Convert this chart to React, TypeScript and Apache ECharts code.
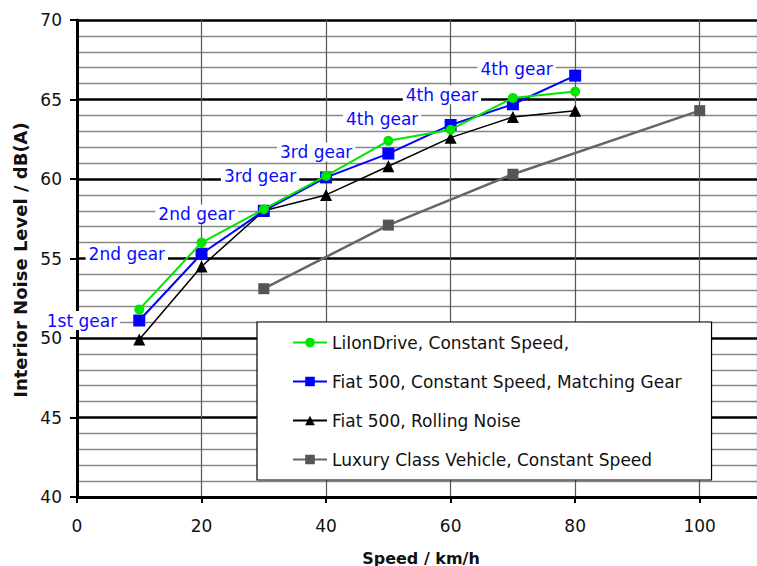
import React, { useEffect, useRef } from "react";
import * as echarts from "echarts";

const speeds = [10, 20, 30, 40, 50, 60, 70, 80];
const liIonDrive = [51.8, 56.0, 58.1, 60.2, 62.4, 63.1, 65.1, 65.5];
const fiatGear = [51.1, 55.3, 58.0, 60.1, 61.6, 63.4, 64.7, 66.5];
const fiatRolling = [49.9, 54.5, 58.0, 59.0, 60.8, 62.6, 63.9, 64.3];
const luxurySpeeds = [30, 50, 70, 100];
const luxury = [53.1, 57.1, 60.3, 64.3];

const seriesNames = [
  "LiIonDrive, Constant Speed,",
  "Fiat 500, Constant Speed, Matching Gear",
  "Fiat 500, Rolling Noise",
  "Luxury Class Vehicle, Constant Speed",
];

// gear annotations: [speed, level, text]
const gearLabels: [number, number, string][] = [
  [0.8, 51.1, "1st gear"],
  [8.0, 55.3, "2nd gear"],
  [19.2, 57.8, "2nd gear"],
  [29.4, 60.2, "3rd gear"],
  [38.4, 61.7, "3rd gear"],
  [49.0, 63.8, "4th gear"],
  [58.6, 65.3, "4th gear"],
  [70.6, 66.9, "4th gear"],
];

const FONT = "DejaVu Sans";

export default function App() {
  const ref = useRef<HTMLDivElement>(null);
  useEffect(() => {
    if (!ref.current) return;
    const chart = echarts.init(ref.current, undefined, { renderer: "svg" });
    const zip = (xs: number[], ys: number[]) => xs.map((x, i) => [x, ys[i]]);
    chart.setOption({
      animation: false,
      backgroundColor: "#fff",
      grid: { left: 77, right: -2.5, top: 20, bottom: 69, containLabel: false },
      xAxis: {
        type: "value",
        min: 0,
        max: 109.2,
        interval: 20,
        axisLine: { show: true, onZero: false, lineStyle: { color: "#000", width: 3 } },
        axisTick: { show: true, length: 6, lineStyle: { color: "#000", width: 2 } },
        axisLabel: { showMaxLabel: false, color: "#111", fontFamily: FONT, fontSize: 17, margin: 20 },
        splitLine: { show: true, lineStyle: { color: "#555", width: 1.2 } },
      },
      yAxis: {
        type: "value",
        min: 40,
        max: 70,
        interval: 5,
        axisLine: { show: true, lineStyle: { color: "#000", width: 3 } },
        axisTick: { show: true, length: 7, lineStyle: { color: "#000", width: 2 } },
        axisLabel: { color: "#111", fontFamily: FONT, fontSize: 17, margin: 15 },
        splitLine: { show: true, lineStyle: { color: "#000", width: 2.5 } },
        minorTick: { show: false, splitNumber: 5 },
        minorSplitLine: { show: true, lineStyle: { color: "#888", width: 1.3 } },
      },
      legend: {
        orient: "vertical",
        left: 257,
        top: 322,
        data: seriesNames,
        backgroundColor: "#fff",
        borderColor: "#000",
        borderWidth: 1.2,
        padding: [12, 30, 12, 35],
        itemWidth: 34,
        itemHeight: 12,
        itemGap: 22,
        textStyle: { color: "#111", fontFamily: FONT, fontSize: 17 },
      },
      graphic: [
        {
          type: "text",
          x: 20,
          y: 260,
          rotation: Math.PI / 2,
          style: {
            text: "Interior Noise Level / dB(A)",
            font: `bold 18px "${FONT}"`,
            fill: "#111",
            align: "center",
            verticalAlign: "middle",
          },
        },
        {
          type: "text",
          x: 421,
          y: 558,
          style: {
            text: "Speed / km/h",
            font: `bold 16px "${FONT}"`,
            fill: "#111",
            align: "center",
            verticalAlign: "middle",
          },
        },
      ],
      series: [
        {
          name: seriesNames[3],
          type: "line",
          data: zip(luxurySpeeds, luxury),
          color: "#5a5a5a",
          symbol: "rect",
          symbolSize: 11,
          lineStyle: { width: 2.5, color: "#666" },
          itemStyle: { color: "#555" },
          z: 2,
        },
        {
          name: seriesNames[2],
          type: "line",
          data: zip(speeds, fiatRolling),
          color: "#000",
          symbol: "triangle",
          symbolSize: 12,
          lineStyle: { width: 1.5, color: "#000" },
          itemStyle: { color: "#000" },
          z: 3,
        },
        {
          name: seriesNames[1],
          type: "line",
          data: zip(speeds, fiatGear),
          color: "#0000ff",
          symbol: "rect",
          symbolSize: 12,
          lineStyle: { width: 2, color: "#0000ff" },
          itemStyle: { color: "#0000ff" },
          z: 4,
        },
        {
          name: seriesNames[0],
          type: "line",
          data: zip(speeds, liIonDrive),
          color: "#00e600",
          symbol: "circle",
          symbolSize: 10,
          lineStyle: { width: 2, color: "#00e600" },
          itemStyle: { color: "#00e600" },
          z: 5,
        },
        {
          name: "gear",
          type: "scatter",
          data: gearLabels.map((g) => ({ value: [g[0], g[1]], name: g[2] })),
          symbolSize: 0,
          silent: true,
          z: 4,
          itemStyle: { opacity: 1, color: "#0a0aff" },
          label: {
            show: true,
            position: "inside",
            formatter: (p: any) => p.name,
            color: "#0a0aff",
            opacity: 1,
            textBorderWidth: 0,
            textBorderColor: "transparent",
            fontFamily: FONT,
            fontSize: 17,
            backgroundColor: "#fff",
            padding: [1, 3],
          },
        },
      ],
    });
    return () => chart.dispose();
  }, []);
  return (
    <div
      ref={ref}
      style={{ position: "fixed", left: 0, top: 0, width: 757, height: 566 }}
    />
  );
}
